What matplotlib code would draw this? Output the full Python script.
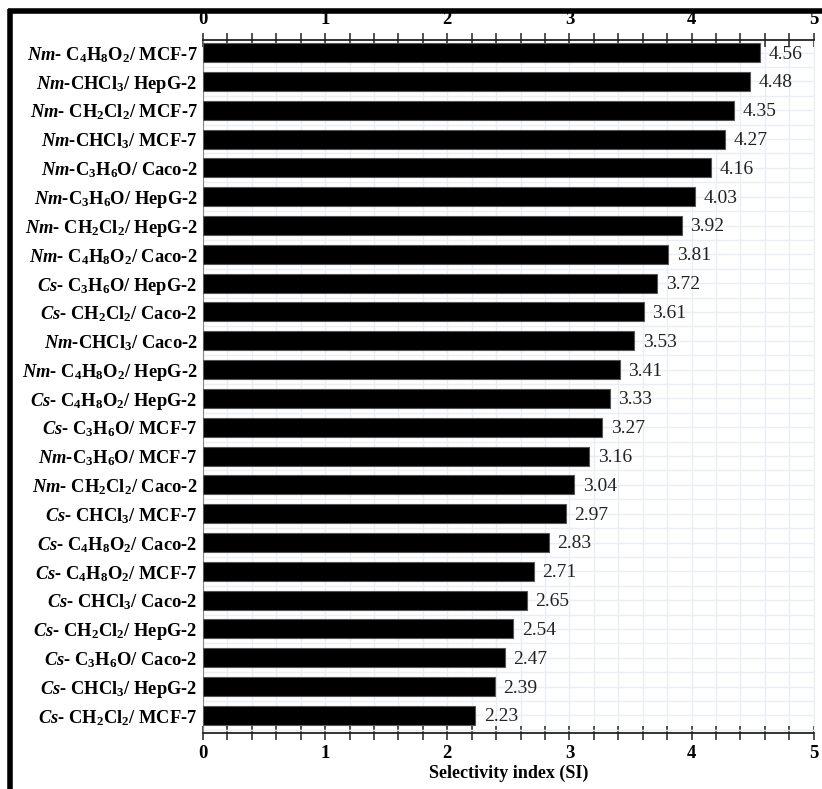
import numpy as np
import matplotlib.pyplot as plt
from matplotlib.ticker import MultipleLocator

plt.rcParams["font.family"] = "Liberation Serif"
plt.rcParams["mathtext.fontset"] = "custom"
plt.rcParams["mathtext.rm"] = "Liberation Serif:bold"
plt.rcParams["mathtext.it"] = "Liberation Serif:italic:bold"
plt.rcParams["mathtext.default"] = "rm"

# extract / cell line, sorted by selectivity index (top to bottom)
labels = [
    r"$\mathit{Nm}$- C$_4$H$_8$O$_2$/ MCF-7",
    r"$\mathit{Nm}$-CHCl$_3$/ HepG-2",
    r"$\mathit{Nm}$- CH$_2$Cl$_2$/ MCF-7",
    r"$\mathit{Nm}$-CHCl$_3$/ MCF-7",
    r"$\mathit{Nm}$-C$_3$H$_6$O/ Caco-2",
    r"$\mathit{Nm}$-C$_3$H$_6$O/ HepG-2",
    r"$\mathit{Nm}$- CH$_2$Cl$_2$/ HepG-2",
    r"$\mathit{Nm}$- C$_4$H$_8$O$_2$/ Caco-2",
    r"$\mathit{Cs}$- C$_3$H$_6$O/ HepG-2",
    r"$\mathit{Cs}$- CH$_2$Cl$_2$/ Caco-2",
    r"$\mathit{Nm}$-CHCl$_3$/ Caco-2",
    r"$\mathit{Nm}$- C$_4$H$_8$O$_2$/ HepG-2",
    r"$\mathit{Cs}$- C$_4$H$_8$O$_2$/ HepG-2",
    r"$\mathit{Cs}$- C$_3$H$_6$O/ MCF-7",
    r"$\mathit{Nm}$-C$_3$H$_6$O/ MCF-7",
    r"$\mathit{Nm}$- CH$_2$Cl$_2$/ Caco-2",
    r"$\mathit{Cs}$- CHCl$_3$/ MCF-7",
    r"$\mathit{Cs}$- C$_4$H$_8$O$_2$/ Caco-2",
    r"$\mathit{Cs}$- C$_4$H$_8$O$_2$/ MCF-7",
    r"$\mathit{Cs}$- CHCl$_3$/ Caco-2",
    r"$\mathit{Cs}$- CH$_2$Cl$_2$/ HepG-2",
    r"$\mathit{Cs}$- C$_3$H$_6$O/ Caco-2",
    r"$\mathit{Cs}$- CHCl$_3$/ HepG-2",
    r"$\mathit{Cs}$- CH$_2$Cl$_2$/ MCF-7",
]
si = [4.56, 4.48, 4.35, 4.27, 4.16, 4.03, 3.92, 3.81, 3.72, 3.61, 3.53, 3.41,
      3.33, 3.27, 3.16, 3.04, 2.97, 2.83, 2.71, 2.65, 2.54, 2.47, 2.39, 2.23]

fig = plt.figure(figsize=(8.22, 7.89), dpi=100)
ax = fig.add_axes([0.247, 0.071, 0.743, 0.878])

y = np.arange(len(si))
ax.barh(y, si, height=0.66, color="black", edgecolor="#555555", linewidth=0.8, zorder=3)
for yi, v in zip(y, si):
    ax.text(v + 0.07, yi + 0.05, f"{v:.2f}", va="center", ha="left", fontsize=14,
            color="#222222", zorder=4)

ax.set_xlim(0, 5)
ax.set_ylim(len(si) - 1 + 0.61, -0.43)
ax.set_yticks(y)
ax.set_yticklabels(labels, fontsize=13.3, fontweight="bold")
ax.tick_params(axis="y", length=0, pad=4)

ax.xaxis.set_major_locator(MultipleLocator(1))
ax.xaxis.set_minor_locator(MultipleLocator(0.2))
ax.set_yticks(y + 0.5, minor=True)
ax.tick_params(axis="x", which="both", direction="inout", length=10, width=1.1,
               top=True, bottom=True, labeltop=True, labelbottom=True,
               labelsize=13.5, color="#222222")
ax.tick_params(axis="y", which="minor", length=0)
for lab in ax.get_xticklabels():
    lab.set_fontweight("bold")

ax.grid(which="both", color="#eaeef2", linewidth=1.0, zorder=0)
ax.set_axisbelow(True)

for side in ["top", "bottom"]:
    ax.spines[side].set_color("#222222")
    ax.spines[side].set_linewidth(1.3)
ax.spines["left"].set_color("#888888")
ax.spines["right"].set_color("#eaeef2")

ax.set_xlabel("Selectivity index (SI)", fontsize=13, fontweight="bold", labelpad=2)

# heavy frame on the top and left edges
fig.add_artist(plt.Line2D([0.0103, 1.0], [0.986, 0.986], color="black", linewidth=4,
                          transform=fig.transFigure, solid_capstyle="butt"))
fig.add_artist(plt.Line2D([0.0118, 0.0118], [0.0, 0.9885], color="black", linewidth=4,
                          transform=fig.transFigure, solid_capstyle="butt"))

fig.savefig("out.png", dpi=100)
